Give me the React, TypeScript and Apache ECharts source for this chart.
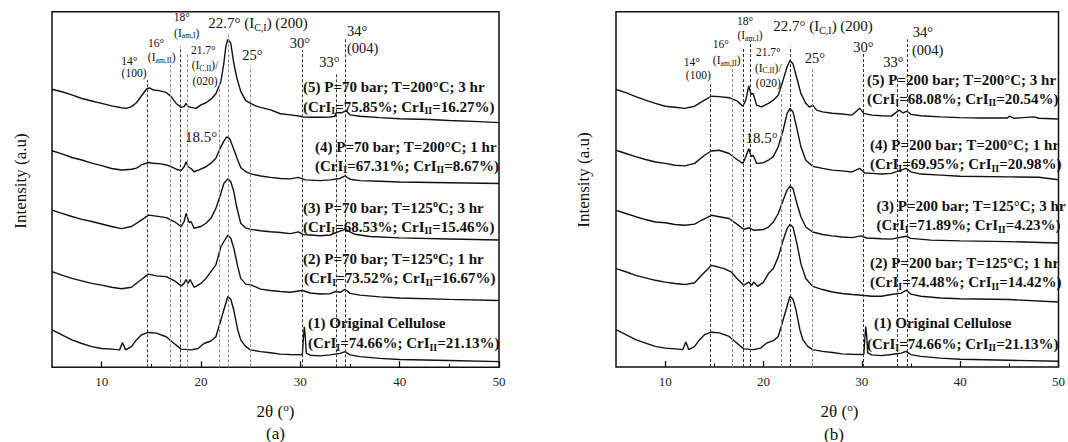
import React, { useEffect, useRef } from "react";
import * as echarts from "echarts";

type Pt = [number, number];

// ---------- axis ticks ----------
const xLabelTicks = [10, 20, 30, 40, 50];
const xMinorTicks = [15, 25, 35, 45];

// ---------- curves (2θ, offset intensity in plot units 0..100) ----------
const originalCellulose: Pt[] = [
  [5, 10.5], [6, 9.1], [7, 7.7], [8, 6.7], [9, 5.8], [10, 5.3], [11, 5.1], [11.8, 4.9], [12.1, 7.0], [12.4, 4.9],
  [13, 5.8], [13.5, 7.7], [14, 9.1], [14.7, 9.8], [15.5, 9.6], [16.5, 8.6], [17.3, 6.7], [18, 5.1], [19, 4.9],
  [19.7, 5.3], [20.3, 6.7], [21, 7.4], [21.5, 8.6], [22, 13.3], [22.4, 17.1], [22.7, 19.9], [23.0, 19.1],
  [23.3, 16.1], [23.7, 10.5], [24, 7.7], [24.5, 5.8], [25, 4.9], [26, 4.4], [27, 4.1], [28, 3.7], [29, 3.6],
  [30.2, 3.5], [30.33, 9.0], [30.4, 11.4], [30.5, 8.5], [30.6, 4.0], [31, 3.4], [32, 3.2], [33, 3.5], [34, 3.9],
  [34.5, 4.4], [35, 3.5], [36, 3.0], [38, 2.5], [40, 2.2], [45, 1.9], [50, 1.6],
];

const a70_125_1h: Pt[] = [
  [5, 26.9], [6, 25.9], [7, 25.0], [8, 24.3], [9, 23.6], [10, 23.1], [11, 22.5], [12, 22.1], [13, 22.5], [14, 24.7],
  [14.7, 26.2], [15.5, 25.7], [16.5, 25.5], [17.3, 24.4], [18, 22.9], [18.3, 23.6], [18.5, 24.7], [18.7, 23.6],
  [18.9, 24.7], [19.3, 22.5], [20, 23.6], [20.5, 25.0], [21, 26.9], [21.5, 28.8], [22, 33.9], [22.4, 35.8],
  [22.7, 37.2], [23.0, 36.3], [23.3, 33.5], [23.7, 28.3], [24, 25.0], [24.5, 23.4], [25, 23.2], [25.5, 22.6],
  [26, 22.0], [27, 21.6], [28, 21.3], [29, 21.1], [30.2, 21.6], [31, 20.9], [32, 20.6], [33, 20.7], [33.5, 21.3],
  [34, 21.1], [34.5, 21.9], [35, 20.8], [36, 20.3], [38, 19.8], [40, 19.5], [45, 19.1], [50, 18.8],
];

const a70_125_3h: Pt[] = [
  [5, 44.2], [6, 43.3], [7, 42.4], [8, 41.6], [9, 41.0], [10, 40.3], [11, 39.6], [12, 39.0], [13, 39.6], [14, 41.4],
  [14.7, 42.8], [15.5, 42.5], [16.5, 42.1], [17.3, 41.0], [18, 39.6], [18.3, 41.0], [18.5, 43.3], [18.8, 40.7],
  [19, 41.0], [19.3, 39.1], [20, 39.6], [20.5, 40.5], [21, 41.9], [21.5, 44.7], [22, 48.9], [22.3, 51.7],
  [22.7, 53.0], [23.0, 52.2], [23.3, 49.4], [23.6, 45.0], [24, 40.5], [24.5, 39.2], [25, 38.8], [26, 38.4],
  [27, 38.1], [28, 37.9], [29, 37.6], [29.8, 38.1], [30.3, 37.3], [31, 37.2], [32, 37.0], [33, 37.2], [34, 38.3],
  [34.5, 38.8], [35.5, 37.4], [37, 36.8], [40, 36.4], [45, 36.1], [50, 35.8],
];

const a70_200_1h: Pt[] = [
  [5, 60.9], [6, 60.0], [7, 59.0], [8, 58.3], [9, 57.4], [10, 56.7], [11, 55.9], [12, 55.5], [13, 55.7], [13.5, 56.0],
  [14, 56.9], [14.7, 57.6], [15.2, 57.4], [16, 57.2], [16.5, 56.9], [17, 56.4], [17.5, 55.7], [18, 55.3],
  [18.3, 56.4], [18.5, 57.8], [18.7, 56.4], [19, 55.9], [19.3, 55.0], [19.8, 55.5], [20.5, 56.4], [21, 57.4],
  [21.5, 58.8], [22, 62.0], [22.3, 63.6], [22.6, 64.8], [22.9, 64.3], [23.2, 62.0], [23.6, 59.0], [24, 56.2],
  [24.5, 55.0], [25, 54.4], [26, 53.8], [27, 53.4], [28, 53.1], [29, 53.0], [29.8, 53.4], [30.5, 52.7], [32, 52.5],
  [33, 52.7], [34, 53.1], [34.5, 53.8], [35, 52.9], [36, 52.5], [38, 52.3], [40, 52.1], [45, 51.9], [50, 51.7],
];

const a70_200_3h: Pt[] = [
  [5, 78.2], [6, 77.5], [7, 76.6], [8, 75.6], [9, 74.9], [10, 74.2], [11, 73.5], [12, 73.0], [12.5, 72.8], [13, 73.3],
  [13.5, 74.4], [14, 76.3], [14.5, 78.2], [14.8, 78.6], [15.2, 78.0], [15.8, 77.8], [16.5, 77.3], [17, 76.1],
  [17.5, 74.2], [18, 73.1], [18.3, 73.3], [18.5, 74.2], [18.7, 73.3], [19, 73.1], [19.5, 72.8], [20, 73.8],
  [20.5, 74.4], [21, 75.4], [21.5, 76.9], [22, 80.3], [22.3, 85.5], [22.5, 90.2], [22.7, 92.2], [23.0, 91.1],
  [23.3, 85.5], [23.6, 81.5], [24, 77.6], [24.5, 75.0], [25, 74.2], [25.5, 73.5], [26, 73.1], [27, 72.4],
  [28, 71.3], [29, 71.0], [30, 70.6], [30.3, 70.4], [31, 70.3], [32, 70.3], [33, 70.4], [33.5, 70.6], [33.6, 71.6],
  [34.2, 71.6], [34.6, 72.2], [35, 71.0], [36, 70.6], [38, 70.2], [40, 69.9], [43, 69.7], [45, 69.4], [48, 69.1],
  [50, 68.8],
];

const b200_125_1h: Pt[] = [
  [5, 27.7], [6, 26.8], [7, 25.8], [8, 25.1], [9, 24.4], [10, 23.9], [11, 23.5], [12, 23.2], [13, 23.7], [13.7, 25.8],
  [14.7, 28.6], [15.3, 28.2], [16, 27.7], [16.7, 26.8], [17.3, 24.9], [18, 23.0], [18.5, 23.9], [18.8, 23.0],
  [19.0, 23.9], [19.4, 22.7], [20, 23.9], [20.5, 26.3], [21, 27.7], [21.5, 31.0], [22, 35.7], [22.4, 39.0],
  [22.7, 40.1], [23.0, 39.4], [23.4, 34.7], [23.8, 29.1], [24.3, 24.9], [25, 22.7], [26, 21.8], [27, 21.1],
  [28, 20.7], [29, 20.4], [30, 20.2], [31, 19.9], [32, 19.9], [33, 20.4], [34, 20.8], [34.5, 21.6], [35, 20.5],
  [36, 19.9], [38, 19.4], [40, 19.2], [45, 19.0], [50, 18.3],
];

const b200_125_3h: Pt[] = [
  [5, 44.1], [6, 43.2], [7, 42.3], [8, 41.5], [9, 40.8], [10, 40.6], [11, 40.1], [12, 39.9], [13, 40.2], [13.7, 41.3],
  [14.7, 42.7], [15.5, 42.3], [16.5, 41.8], [17.3, 40.2], [18, 38.7], [18.5, 39.2], [19, 38.5], [20, 38.7],
  [20.5, 39.4], [21, 40.8], [21.5, 43.2], [22, 46.9], [22.4, 49.8], [22.7, 50.9], [23.0, 50.2], [23.4, 46.0],
  [23.8, 42.3], [24.3, 39.4], [25, 38.0], [26, 37.3], [27, 36.9], [28, 36.6], [29, 36.4], [29.9, 36.9], [30.5, 36.3],
  [32, 36.1], [33, 36.0], [34.5, 36.8], [35, 36.2], [37, 35.7], [40, 35.5], [45, 35.3], [50, 34.9],
];

const b200_200_1h: Pt[] = [
  [5, 61.0], [6, 60.1], [7, 59.2], [8, 58.4], [9, 57.7], [10, 57.3], [11, 56.8], [12, 56.6], [13, 57.3], [14, 59.6],
  [14.7, 60.8], [15.5, 61.0], [16.5, 60.1], [17.3, 58.4], [17.9, 57.3], [18.2, 59.2], [18.5, 61.5], [18.75, 59.2],
  [18.95, 59.6], [19.3, 57.3], [20, 57.5], [20.5, 58.2], [21, 59.2], [21.5, 62.0], [22, 66.7], [22.4, 71.4],
  [22.7, 72.8], [23.0, 71.8], [23.4, 67.1], [23.8, 62.0], [24.3, 58.2], [25, 56.5], [26, 55.9], [27, 55.4],
  [28, 55.2], [29, 54.9], [29.8, 55.9], [30.3, 54.6], [31, 54.5], [32, 54.3], [33, 54.5], [34, 55.4], [34.5, 55.9],
  [35, 54.9], [36, 54.3], [38, 54.0], [40, 53.7], [45, 53.5], [48, 53.4], [50, 52.7],
];

const b200_200_3h: Pt[] = [
  [5, 78.1], [6, 77.2], [7, 76.1], [8, 75.1], [9, 74.2], [10, 73.4], [11, 73.1], [12, 72.8], [13, 73.4], [14, 75.1],
  [14.7, 76.2], [15.5, 76.1], [16.5, 75.8], [17.3, 74.9], [17.9, 73.4], [18.2, 75.1], [18.5, 79.1], [18.75, 76.7],
  [18.95, 77.0], [19.3, 73.7], [19.8, 73.2], [20.5, 74.2], [21, 75.1], [21.5, 76.5], [22, 80.8], [22.4, 84.5],
  [22.7, 86.3], [23.0, 85.3], [23.4, 81.2], [23.8, 77.0], [24.3, 74.2], [24.7, 73.1], [25, 73.7], [25.4, 72.3],
  [26, 71.8], [27, 71.4], [28, 71.2], [29, 70.9], [29.8, 72.8], [30.2, 71.4], [31, 70.9], [32, 70.7], [33, 70.6],
  [33.8, 72.3], [34.2, 71.5], [34.6, 72.0], [35, 71.1], [36, 70.7], [38, 70.4], [40, 70.2], [42, 70.1], [44.8, 70.1],
  [45, 70.6], [45.5, 70.0], [47.5, 70.4], [48, 70.0], [50, 69.8],
];

const panelACurves = [originalCellulose, a70_125_1h, a70_125_3h, a70_200_1h, a70_200_3h];
const panelBCurves = [originalCellulose, b200_125_1h, b200_125_3h, b200_200_1h, b200_200_3h];

// ---------- reference (peak) lines: 2θ and top of the dashed line ----------
const peakLinesA = [14.6, 16.95, 17.96, 18.63, 21.85, 22.76, 24.94, 30.2, 33.6, 34.5];
const peakTopsA = [80.8, 85.0, 90.2, 88.0, 80.0, 94.0, 84.7, 89.2, 82.8, 92.8];
const peakLinesB = [14.63, 16.87, 17.98, 18.65, 21.77, 22.68, 24.95, 30.12, 33.57, 34.58];
const peakTopsB = [80.3, 84.7, 90.0, 91.9, 77.5, 90.2, 84.5, 88.8, 81.7, 92.2];
const peakToneA = [0, 1, 0, 1, 1, 1, 1, 0, 0, 0];
const peakToneB = [0, 1, 0, 0, 1, 0, 1, 0, 0, 0];

// ---------- texts ----------
const annotationsA = [
  "(5) P=70 bar; T=200°C; 3 hr", "(CrI_{I}=75.85%; CrI_{II}=16.27%)",
  "(4) P=70 bar; T=200°C; 1 hr", "(CrI_{I}=67.31%; CrI_{II}=8.67%)",
  "(3) P=70 bar; T=125^{o}C; 3 hr", "(CrI_{I}=68.53%; CrI_{II}=15.46%)",
  "(2) P=70 bar; T=125^{o}C; 1 hr", "(CrI_{I}=73.52%; CrI_{II}=16.67%)",
  "(1) Original Cellulose", "(CrI_{I}=74.66%; CrI_{II}=21.13%)",
];
const annotationsB = [
  "(5) P=200 bar; T=200°C; 3 hr", "(CrI_{I}=68.08%; CrI_{II}=20.54%)",
  "(4) P=200 bar; T=200°C; 1 hr", "(CrI_{I}=69.95%; CrI_{II}=20.98%)",
  "(3) P=200 bar; T=125°C; 3 hr", "(CrI_{I}=71.89%; CrI_{II}=4.23%)",
  "(2) P=200 bar; T=125°C; 1 hr", "(CrI_{I}=74.48%; CrI_{II}=14.42%)",
  "(1) Original Cellulose", "(CrI_{I}=74.66%; CrI_{II}=21.13%)",
];
const peakLabels = [
  "22.7° (I_{C,I}) (200)", "25°", "30°", "33°", "34°", "(004)", "18.5°",
  "14°", "(100)", "16°", "(I_{am,II})", "18°", "(I_{am,I})", "21.7°", "(I_{C,II})/", "(020)",
];
const peakLabelClass = ["big", "mid", "mid", "mid", "mid", "mid", "big",
  "sm", "sm", "sm", "sm", "sm", "sm", "sm", "sm", "sm"];
const axisTitleX = "2θ (^{o})";
const axisTitleY = "Intensity (a.u)";
const panelTags = ["(a)", "(b)"];

// ---------- layout (pixels) ----------
const annLayoutA: [number, number][] = [
  [303, 87.3], [303, 106.5], [315, 146.7], [315, 165.7], [303, 207.7], [303, 226.7],
  [303, 259.3], [304, 278.3], [308, 323.3], [308, 343.3],
];
const annLayoutB: [number, number][] = [
  [867, 80], [867, 98.7], [870, 145], [870, 164], [876.5, 206], [876.5, 225],
  [870, 263.3], [870, 282.3], [874, 323.3], [867, 343.5],
];
// [x, y, align]
const peakLayoutA: [number, number, string][] = [
  [208.3, 23.3, "left"], [252.3, 55, "center"], [300, 42.7, "center"], [329.5, 61.7, "center"],
  [347, 30.7, "left"], [347, 48.3, "left"], [201, 136.7, "center"],
  [129.3, 60.7, "center"], [134, 73.3, "center"], [156, 42.7, "center"], [161.7, 57.3, "center"],
  [181.7, 17.3, "center"], [186.7, 32.7, "center"], [203.3, 50, "center"], [205, 65, "center"], [205, 80.7, "center"],
];
const peakLayoutB: [number, number, string][] = [
  [773.3, 26, "left"], [815, 58.3, "center"], [863.3, 47.3, "center"], [893.3, 61.7, "center"],
  [912.7, 31.7, "left"], [912, 50, "left"], [761.7, 138.3, "center"],
  [691.7, 61.7, "center"], [698.3, 75, "center"], [720.7, 44, "center"], [726.7, 60, "center"],
  [745, 20.7, "center"], [750, 35, "center"], [768.3, 52.3, "center"], [768.3, 67.7, "center"], [768.3, 83.3, "center"],
];

const SERIF = "'Liberation Serif', 'DejaVu Serif', serif";
const INK = "#111";

function fontClass(size: number, weight: string) {
  const sub = Math.round(size * 0.66 * 10) / 10;
  const shift = Math.round(size * 0.55);
  return {
    n: { fontSize: size, fontWeight: weight, fontFamily: SERIF, fill: INK },
    Sub: { fontSize: sub, fontWeight: weight, fontFamily: SERIF, fill: INK, padding: [shift, 0, 0, 0] },
    Sup: { fontSize: sub, fontWeight: weight, fontFamily: SERIF, fill: INK, padding: [0, 0, shift, 0] },
  };
}
const CLASSES: Record<string, [number, string]> = {
  ann: [15, "bold"],
  big: [15, "normal"],
  mid: [14.5, "normal"],
  sm: [11.5, "normal"],
  ax: [17, "normal"],
};
const RICH: Record<string, any> = {};
Object.keys(CLASSES).forEach((k) => {
  const f = fontClass(CLASSES[k][0], CLASSES[k][1]);
  RICH[k] = f.n;
  RICH[k + "Sub"] = f.Sub;
  RICH[k + "Sup"] = f.Sup;
});

function toRich(src: string, cls: string): string {
  let out = "";
  let buf = "";
  let i = 0;
  while (i < src.length) {
    const c = src[i];
    if ((c === "_" || c === "^") && src[i + 1] === "{") {
      if (buf) { out += `{${cls}|${buf}}`; buf = ""; }
      const end = src.indexOf("}", i);
      out += `{${cls}${c === "_" ? "Sub" : "Sup"}|${src.slice(i + 2, end)}}`;
      i = end + 1;
    } else {
      buf += c;
      i++;
    }
  }
  if (buf) out += `{${cls}|${buf}}`;
  return out;
}

function textEl(src: string, cls: string, x: number, y: number, align = "left", rotation = 0) {
  return {
    type: "text",
    x, y, rotation, silent: true, z: 10,
    style: {
      text: toRich(src, cls),
      rich: RICH,
      align,
      verticalAlign: "middle",
      fill: INK,
      fontFamily: SERIF,
    },
  };
}

export default function App() {
  const ref = useRef<HTMLDivElement>(null);
  useEffect(() => {
    if (!ref.current) return;
    const chart = echarts.init(ref.current, undefined, { renderer: "svg" });

    const grids = [
      { left: 52, top: 11.7, width: 447, height: 355.6 },
      { left: 616, top: 11.7, width: 447.5, height: 355.3 },
    ].map((g) => ({ ...g, show: true, borderColor: INK, borderWidth: 1.5, backgroundColor: "transparent" }));

    const xAxes: any[] = [];
    const yAxes: any[] = [];
    [0, 1].forEach((g) => {
      xAxes.push({
        gridIndex: g, type: "value", min: 5, max: 50, position: "bottom",
        axisLine: { show: false }, splitLine: { show: false },
        axisTick: { show: true, inside: true, length: 6, customValues: xLabelTicks, lineStyle: { color: INK, width: 1.3 } },
        axisLabel: { show: true, customValues: xLabelTicks, margin: 8, fontFamily: SERIF, fontSize: 13, color: "#222" },
      });
      xAxes.push({
        gridIndex: g, type: "value", min: 5, max: 50, position: "bottom",
        axisLine: { show: false }, splitLine: { show: false }, axisLabel: { show: false },
        axisTick: { show: true, inside: true, length: 3.5, customValues: xMinorTicks, lineStyle: { color: INK, width: 1.1 } },
      });
      yAxes.push({ gridIndex: g, type: "value", min: 0, max: 100, show: false });
    });

    const makeMarkLines = (pos: number[], tops: number[], tone: number[]) => ({
      silent: true,
      symbol: ["none", "none"],
      label: { show: false },
      animation: false,
      data: pos.map((p, i) => [
        { coord: [p, 0], lineStyle: { color: tone[i] ? "#8a8a8a" : "#333", width: 1, type: [3, 2] } },
        { coord: [p, tops[i]] },
      ]),
    });

    const series: any[] = [];
    [panelACurves, panelBCurves].forEach((curves, g) => {
      curves.forEach((data, i) => {
        series.push({
          type: "line",
          xAxisIndex: g * 2,
          yAxisIndex: g,
          data,
          showSymbol: false,
          symbol: "none",
          silent: true,
          z: 3,
          lineStyle: { color: INK, width: 1.4 },
          markLine: i === 0
            ? (g === 0 ? makeMarkLines(peakLinesA, peakTopsA, peakToneA) : makeMarkLines(peakLinesB, peakTopsB, peakToneB))
            : undefined,
        });
      });
    });

    const graphic: any[] = [];
    annotationsA.forEach((t, i) => graphic.push(textEl(t, "ann", annLayoutA[i][0], annLayoutA[i][1])));
    annotationsB.forEach((t, i) => graphic.push(textEl(t, "ann", annLayoutB[i][0], annLayoutB[i][1])));
    peakLabels.forEach((t, i) => {
      graphic.push(textEl(t, peakLabelClass[i], peakLayoutA[i][0], peakLayoutA[i][1], peakLayoutA[i][2]));
      graphic.push(textEl(t, peakLabelClass[i], peakLayoutB[i][0], peakLayoutB[i][1], peakLayoutB[i][2]));
    });
    graphic.push(textEl(axisTitleX, "ax", 275.5, 411.7, "center"));
    graphic.push(textEl(axisTitleX, "ax", 839.5, 411.7, "center"));
    graphic.push(textEl(axisTitleY, "ax", 20, 181, "center", Math.PI / 2));
    graphic.push(textEl(axisTitleY, "ax", 583.5, 180, "center", Math.PI / 2));
    graphic.push(textEl(panelTags[0], "ax", 275.5, 433.5, "center"));
    graphic.push(textEl(panelTags[1], "ax", 834, 434, "center"));

    chart.setOption({
      animation: false,
      backgroundColor: "#fff",
      grid: grids,
      xAxis: xAxes,
      yAxis: yAxes,
      series,
      graphic,
    });
    return () => chart.dispose();
  }, []);
  return (
    <div
      ref={ref}
      style={{ position: "fixed", left: 0, top: 0, width: 1068, height: 442, background: "#fff" }}
    />
  );
}
